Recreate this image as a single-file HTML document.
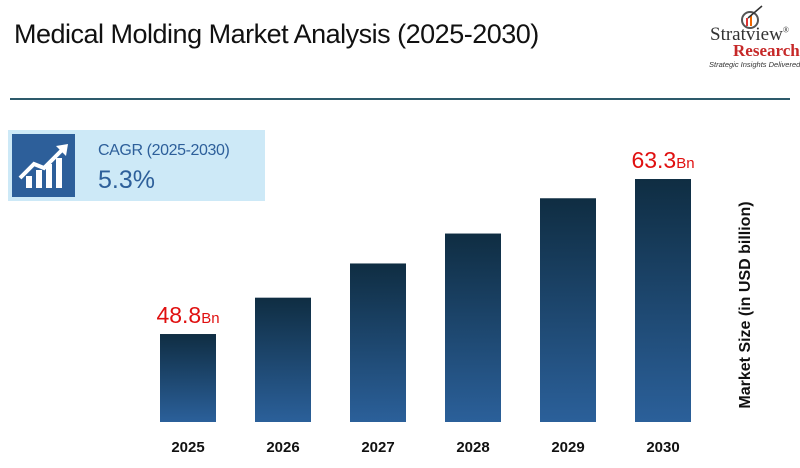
<!DOCTYPE html>
<html><head><meta charset="utf-8"><style>
body{margin:0;width:800px;height:468px;background:#fff;position:relative;overflow:hidden;font-family:"Liberation Sans",sans-serif}
.abs{position:absolute}
</style></head><body>
<div class="abs" style="left:14px;top:19px;font-size:27px;color:#111;letter-spacing:-0.5px">Medical Molding Market Analysis (2025-2030)</div>
<div class="abs" style="left:700px;top:4px;width:100px;height:64px">
 <svg width="100" height="30" style="position:absolute;left:0;top:0"><circle cx="50" cy="16" r="8" fill="none" stroke="#555" stroke-width="2"/><rect x="46" y="14" width="2" height="8" fill="#d33"/><rect x="50" y="11" width="2" height="11" fill="#e60"/><line x1="48" y1="14" x2="62" y2="2" stroke="#333" stroke-width="1.5"/></svg>
 <div class="abs" style="left:10px;top:20px;font-family:'Liberation Serif',serif;font-size:19px;color:#333">Stratview<sup style="font-size:8px">®</sup></div>
 <div class="abs" style="left:33px;top:37px;font-family:'Liberation Serif',serif;font-size:17px;font-weight:bold;color:#c62828">Research</div>
 <div class="abs" style="left:9px;top:56px;font-size:7.5px;font-style:italic;color:#333;white-space:nowrap">Strategic Insights Delivered</div>
</div>
<div class="abs" style="left:10px;top:98px;width:780px;height:2px;background:#2d5a6b"></div>
<div class="abs" style="left:8px;top:130px;width:257px;height:71px;background:#cde9f7">
 <div class="abs" style="left:4px;top:4px;width:63px;height:63px;background:#2d5f9a">
  <svg width="63" height="63"><g fill="#fff"><rect x="14" y="42" width="6" height="12"/><rect x="24" y="36" width="6" height="18"/><rect x="34" y="30" width="6" height="24"/><rect x="44" y="24" width="6" height="30"/></g><polyline points="8,44 22,30 32,34 50,16" fill="none" stroke="#fff" stroke-width="4"/><polygon points="44,12 56,10 54,22" fill="#fff"/></svg>
 </div>
 <div class="abs" style="left:90px;top:12px;font-size:16px;color:#2d5f9a;letter-spacing:-0.4px">CAGR (2025-2030)</div>
 <div class="abs" style="left:90px;top:36px;font-size:25px;color:#2d5f9a">5.3%</div>
</div>
<svg class="abs" style="left:0;top:0" width="800" height="468" id="chart">
 <defs><linearGradient id="g" x1="0" y1="0" x2="0" y2="1"><stop offset="0" stop-color="#0f2d42"/><stop offset="1" stop-color="#2b609a"/></linearGradient></defs>
 <text x="750" y="305" transform="rotate(-90 750 305)" text-anchor="middle" font-size="16" font-weight="bold" fill="#111">Market Size (in USD billion)</text>
</svg>
<script>
const categories=["2025","2026","2027","2028","2029","2030"];
const values=[48.8,52.2,55.4,58.2,61.5,63.3];
const labels=["48.8","","","","","63.3"];
const svg=document.getElementById('chart');
const NS="http://www.w3.org/2000/svg";
const base=40.57,k=10.69,bottom=422,x0=160,step=95,bw=56;
const xs=i=>x0+i*step;
const ys=v=>bottom-(v-base)*k;
categories.forEach((c,i)=>{
 const r=document.createElementNS(NS,'rect');
 r.setAttribute('x',xs(i));r.setAttribute('y',ys(values[i]));r.setAttribute('width',bw);r.setAttribute('height',bottom-ys(values[i]));r.setAttribute('fill','url(#g)');
 
 
 svg.appendChild(r);
 const t=document.createElementNS(NS,'text');
 t.setAttribute('x',xs(i)+bw/2);t.setAttribute('y',452);t.setAttribute('text-anchor','middle');t.setAttribute('font-size','15');t.setAttribute('font-weight','bold');t.setAttribute('fill','#111');t.textContent=c;
 
 
 svg.appendChild(t);
 if(labels[i]){
  const l=document.createElementNS(NS,'text');
  l.setAttribute('x',xs(i)+bw/2);l.setAttribute('y',ys(values[i])-11);l.setAttribute('text-anchor','middle');l.setAttribute('fill','#e01010');
  l.innerHTML='<tspan font-size="23">'+labels[i]+'</tspan><tspan font-size="15">Bn</tspan>';
  
  
  svg.appendChild(l);
 }
});
</script>
</body></html>
